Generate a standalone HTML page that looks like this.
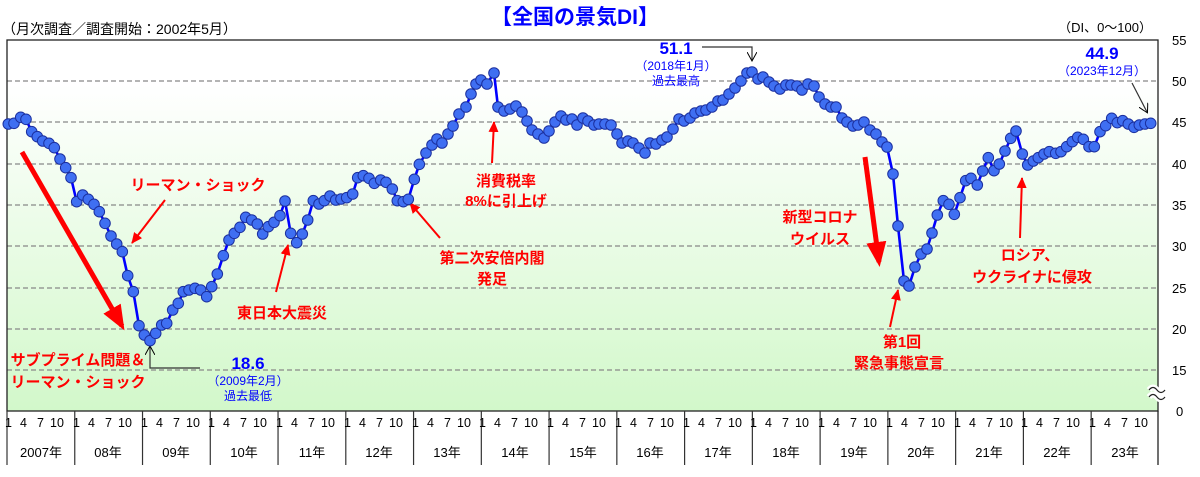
<!DOCTYPE html>
<html><head><meta charset="utf-8"><style>
html,body{margin:0;padding:0;background:#fff;}
svg{display:block;font-family:"Liberation Sans","Noto Sans CJK JP",sans-serif;}
.r{fill:#ff0000;font-weight:bold;font-size:15px;text-anchor:middle;}
.b{fill:#0000ff;font-size:12px;text-anchor:middle;}
.bb{fill:#0000ff;font-weight:bold;font-size:17px;text-anchor:middle;}
.ax{font-size:13px;fill:#000;}
.y{font-size:13px;fill:#000;text-anchor:middle;}
</style></head><body>
<svg id="s" width="1200" height="477" viewBox="0 0 1200 477" xmlns="http://www.w3.org/2000/svg">
<defs>
<linearGradient id="g" x1="0" y1="0" x2="0" y2="1">
<stop offset="0" stop-color="#ffffff"/><stop offset="0.12" stop-color="#ffffff"/><stop offset="1" stop-color="#d2f8ca"/>
</linearGradient>
<marker id="ah" markerWidth="10" markerHeight="10" refX="8" refY="5" orient="auto" markerUnits="userSpaceOnUse"><path d="M0,0 L9,5 L0,10" fill="none" stroke="#000" stroke-width="1"/></marker>
<marker id="rh" markerWidth="12" markerHeight="12" refX="10" refY="6" orient="auto" markerUnits="userSpaceOnUse"><path d="M0,1 L11,6 L0,11 Z" fill="#ff0000"/></marker>
<marker id="rhb" markerWidth="16" markerHeight="16" refX="4" refY="2.5" orient="auto"><path d="M0,0.5 L5,2.5 L0,4.5 Z" fill="#ff0000"/></marker>
</defs>
<rect x="7" y="40" width="1151" height="371" fill="url(#g)"/>
<g stroke="#888" stroke-width="1.3" stroke-dasharray="5,3">
<line x1="7" y1="81" x2="1158" y2="81"/><line x1="7" y1="122" x2="1158" y2="122"/><line x1="7" y1="164" x2="1158" y2="164"/><line x1="7" y1="205" x2="1158" y2="205"/><line x1="7" y1="246" x2="1158" y2="246"/><line x1="7" y1="288" x2="1158" y2="288"/><line x1="7" y1="329" x2="1158" y2="329"/><line x1="7" y1="370" x2="1158" y2="370"/>
</g>
<rect x="7" y="40" width="1151" height="371" fill="none" stroke="#222" stroke-width="1.3"/>
<line x1="1158" y1="411" x2="1158" y2="465" stroke="#222" stroke-width="1.3"/>
<path d="M1149,390 q4,-5 8,0 t8,0 M1149,397 q4,-5 8,0 t8,0" stroke="#fff" stroke-width="6" fill="none"/>
<path d="M1149,390 q4,-5 8,0 t8,0 M1149,397 q4,-5 8,0 t8,0" stroke="#222" stroke-width="1.2" fill="none"/>
<g id="yl" stroke="#333" stroke-width="1.2"></g>
<g class="ax">
<text x="1172" y="45">55</text><text x="1172" y="86">50</text><text x="1172" y="127">45</text><text x="1172" y="169">40</text><text x="1172" y="210">35</text><text x="1172" y="251">30</text><text x="1172" y="293">25</text><text x="1172" y="334">20</text><text x="1172" y="375">15</text><text x="1176" y="416">0</text>
</g>
<text x="2" y="34" style="font-size:14px">（月次調査／調査開始：2002年5月）</text>
<text x="1152" y="32" style="font-size:13px;text-anchor:end">（DI、0～100）</text>
<text x="575" y="24" style="font-size:21px;font-weight:bold;fill:#0000ff;text-anchor:middle">【全国の景気DI】</text>
<g id="years">
<text class="y" x="41" y="457">2007年</text><text class="y" x="108" y="457">08年</text><text class="y" x="176" y="457">09年</text><text class="y" x="244" y="457">10年</text><text class="y" x="312" y="457">11年</text><text class="y" x="379" y="457">12年</text><text class="y" x="447" y="457">13年</text><text class="y" x="515" y="457">14年</text><text class="y" x="583" y="457">15年</text><text class="y" x="650" y="457">16年</text><text class="y" x="718" y="457">17年</text><text class="y" x="786" y="457">18年</text><text class="y" x="854" y="457">19年</text><text class="y" x="921" y="457">20年</text><text class="y" x="989" y="457">21年</text><text class="y" x="1057" y="457">22年</text><text class="y" x="1125" y="457">23年</text>
</g>
<line x1="22" y1="152" x2="122" y2="326" stroke="#ff0000" stroke-width="5" marker-end="url(#rhb)"/>
<line x1="865" y1="157" x2="879" y2="262" stroke="#ff0000" stroke-width="5" marker-end="url(#rhb)"/>
<g stroke="#ff0000" stroke-width="2" fill="none">
<line x1="165" y1="200" x2="132" y2="243" marker-end="url(#rh)"/>
<line x1="276" y1="292" x2="288" y2="245" marker-end="url(#rh)"/>
<line x1="440" y1="238" x2="410" y2="203" marker-end="url(#rh)"/>
<line x1="492" y1="163" x2="494" y2="122" marker-end="url(#rh)"/>
<line x1="890" y1="327" x2="898" y2="290" marker-end="url(#rh)"/>
<line x1="1020" y1="238" x2="1022" y2="178" marker-end="url(#rh)"/>
</g>
<g stroke="#333" stroke-width="1.2" fill="none">
<polyline points="200,368 150,368 150,347" marker-end="url(#ah)"/>
<polyline points="702,47 752,47 752,60" marker-end="url(#ah)"/>
<line x1="1132" y1="83" x2="1147" y2="112" marker-end="url(#ah)"/>
</g>
<polyline id="ln" fill="none" stroke="#0000ff" stroke-width="2.6" stroke-linejoin="round"/>
<g id="pts"></g>
<text class="r" x="198" y="190">リーマン・ショック</text>
<text class="r" x="78" y="365">サブプライム問題＆</text>
<text class="r" x="78" y="387">リーマン・ショック</text>
<text class="r" x="282" y="318">東日本大震災</text>
<text class="r" x="492" y="263">第二次安倍内閣</text>
<text class="r" x="492" y="284">発足</text>
<text class="r" x="506" y="186">消費税率</text>
<text class="r" x="506" y="206">8%に引上げ</text>
<text class="r" x="820" y="222">新型コロナ</text>
<text class="r" x="820" y="244">ウイルス</text>
<text class="r" x="902" y="347">第1回</text>
<text class="r" x="899" y="368">緊急事態宣言</text>
<text class="r" x="1030" y="260">ロシア、</text>
<text class="r" x="1032" y="282">ウクライナに侵攻</text>
<text class="bb" x="248" y="369">18.6</text>
<text class="b" x="248" y="385">（2009年2月）</text>
<text class="b" x="248" y="400">過去最低</text>
<text class="bb" x="676" y="54">51.1</text>
<text class="b" x="676" y="70">（2018年1月）</text>
<text class="b" x="676" y="85">過去最高</text>
<text class="bb" x="1102" y="59">44.9</text>
<text class="b" x="1102" y="75">（2023年12月）</text>
</svg>
<script>
var P=[[8.3,124],[14,123.3],[20.7,117.3],[26,119.3],[31.7,131.7],[37.3,136.7],[42.7,141],[49,143.3],[54.3,147.7],[60,159],[65.7,167.7],[71,177.7],[76.7,201.7],[82.7,195],[88.3,199.3],[94,204.3],[99.3,211.7],[105,223.3],[111,236],[116.7,244],[122.3,251.7],[127.7,275.7],[133.3,291.7],[139,325.7],[144.3,335],[150,340.7],[155.7,333.3],[161.7,325],[166.7,323.3],[172.7,310],[178.3,303.3],[183.3,291.7],[189,290],[195,288.3],[200.7,290],[206.7,296.7],[211.7,286.7],[217.3,274],[223.3,255.7],[229,240],[234.3,233.3],[240,227.3],[245.7,217.3],[251.7,220],[257.3,224],[262.7,234],[268.3,226.7],[274,222.3],[280,215.7],[285,201],[290.7,233.3],[296.7,242.7],[302.3,234],[307.7,220],[313.3,200.7],[319,204],[324.3,200.7],[330,196],[335.7,200],[341,199],[346.7,197.7],[352.7,194],[357.7,177.7],[363.3,175.7],[369,178.3],[374.3,183.3],[380.7,180],[386,182.3],[392.3,189],[397.3,200.7],[403.3,201.7],[408.3,199.3],[414.3,179.3],[419.3,164.3],
[426,153],[432,145],[437,139],[442,143],[448,134],[453,126],[459,114],[466,107],[471,94],[476,84],[481,80],[487,84],[494,73],[498,107],[504,111],[510,109],[516,106],[522,112],[527,121],[532,130],[538,134],[544,138],[549,131],[555,122],[561,116],[566,120],[572,119],[577,125],[583,118],[588,121],[594,125],[599,124],[605,124],[611,125],[617,134],[622,143],[628,141],[633,143],[639,148],[645,153],[650,143],[656,144],[662,140],[667,137],[673,129],[679,119],[684,121],[690,118],[695,113],[701,111],[706,110],[712,107],[718,101],[723,100],[729,94],[735,88],[741,81],[747,73],[752,72],[758,79],[763,77],[769,82],[774,86],[780,89],[786,85],[791,85],[797,86],[802,90],[808,84],[814,86],[819,97],[825,104],[831,107],[836,107],[842,118],[847,122],[853,126],[858,125],[864,122],[870,130],[876,134],[882,142],[887,147],[893,174],[898,226],[904,281],[909,286],[915,267],[921,254],[927,249],[932,233],[937.3,215],
[943.3,200.7],[949,204.3],[954.3,214.3],[960,197.7],[965.7,180.7],[971,178.3],[977.3,185],[982.7,171],[988.3,157.7],[994,170.7],[999.3,164],[1005,151],[1010.7,138.3],[1016,131],[1022.3,154],[1027.7,165],[1033.3,161],[1038.3,157.7],[1044,154],[1049.3,151.7],[1055.7,153.3],[1061,151.7],[1066.7,146.7],[1072.3,141.7],[1077.7,137.3],[1083.3,139.3],[1089,146.7],[1094.3,146.7],[1100,131.7],[1105.7,125.7],[1111.7,118.3],[1117.3,122.7],[1122.7,120.7],[1128.3,124],[1134,127.3],[1139.3,125],[1145,124],[1150.7,123.3]];
var NS="http://www.w3.org/2000/svg";
document.getElementById('ln').setAttribute('points',P.map(function(p){return p.join(',')}).join(' '));
var g=document.getElementById('pts');
P.forEach(function(p){var c=document.createElementNS(NS,'circle');c.setAttribute('cx',p[0]);c.setAttribute('cy',p[1]);c.setAttribute('r',5.3);c.setAttribute('fill','#3f6ff2');c.setAttribute('stroke','#1b2f9e');c.setAttribute('stroke-width','1');g.appendChild(c);});
var yl=document.getElementById('yl');
for(var i=0;i<17;i++){var x=7+i*67.76;var l=document.createElementNS(NS,'line');l.setAttribute('x1',x);l.setAttribute('x2',x);l.setAttribute('y1',411);l.setAttribute('y2',465);yl.appendChild(l);}
</script>
<div style="position:absolute;left:0;top:0;width:1200px;height:477px;pointer-events:none;font-family:'Liberation Sans',sans-serif;font-size:12.5px;">
<div style="position:absolute;top:416px;left:0;white-space:nowrap;">
<span style="position:absolute;left:5px">1</span><span style="position:absolute;left:20px">4</span><span style="position:absolute;left:37px">7</span><span style="position:absolute;left:50px">10</span>
<span style="position:absolute;left:73px">1</span><span style="position:absolute;left:88px">4</span><span style="position:absolute;left:105px">7</span><span style="position:absolute;left:118px">10</span>
<span style="position:absolute;left:141px">1</span><span style="position:absolute;left:156px">4</span><span style="position:absolute;left:173px">7</span><span style="position:absolute;left:186px">10</span>
<span style="position:absolute;left:208px">1</span><span style="position:absolute;left:223px">4</span><span style="position:absolute;left:240px">7</span><span style="position:absolute;left:253px">10</span>
<span style="position:absolute;left:276px">1</span><span style="position:absolute;left:291px">4</span><span style="position:absolute;left:308px">7</span><span style="position:absolute;left:321px">10</span>
<span style="position:absolute;left:344px">1</span><span style="position:absolute;left:359px">4</span><span style="position:absolute;left:376px">7</span><span style="position:absolute;left:389px">10</span>
<span style="position:absolute;left:412px">1</span><span style="position:absolute;left:427px">4</span><span style="position:absolute;left:444px">7</span><span style="position:absolute;left:457px">10</span>
<span style="position:absolute;left:479px">1</span><span style="position:absolute;left:494px">4</span><span style="position:absolute;left:511px">7</span><span style="position:absolute;left:524px">10</span>
<span style="position:absolute;left:547px">1</span><span style="position:absolute;left:562px">4</span><span style="position:absolute;left:579px">7</span><span style="position:absolute;left:592px">10</span>
<span style="position:absolute;left:615px">1</span><span style="position:absolute;left:630px">4</span><span style="position:absolute;left:647px">7</span><span style="position:absolute;left:660px">10</span>
<span style="position:absolute;left:683px">1</span><span style="position:absolute;left:698px">4</span><span style="position:absolute;left:715px">7</span><span style="position:absolute;left:728px">10</span>
<span style="position:absolute;left:750px">1</span><span style="position:absolute;left:765px">4</span><span style="position:absolute;left:782px">7</span><span style="position:absolute;left:795px">10</span>
<span style="position:absolute;left:818px">1</span><span style="position:absolute;left:833px">4</span><span style="position:absolute;left:850px">7</span><span style="position:absolute;left:863px">10</span>
<span style="position:absolute;left:886px">1</span><span style="position:absolute;left:901px">4</span><span style="position:absolute;left:918px">7</span><span style="position:absolute;left:931px">10</span>
<span style="position:absolute;left:954px">1</span><span style="position:absolute;left:969px">4</span><span style="position:absolute;left:986px">7</span><span style="position:absolute;left:999px">10</span>
<span style="position:absolute;left:1021px">1</span><span style="position:absolute;left:1036px">4</span><span style="position:absolute;left:1053px">7</span><span style="position:absolute;left:1066px">10</span>
<span style="position:absolute;left:1089px">1</span><span style="position:absolute;left:1104px">4</span><span style="position:absolute;left:1121px">7</span><span style="position:absolute;left:1134px">10</span>
</div></div>
</body></html>
